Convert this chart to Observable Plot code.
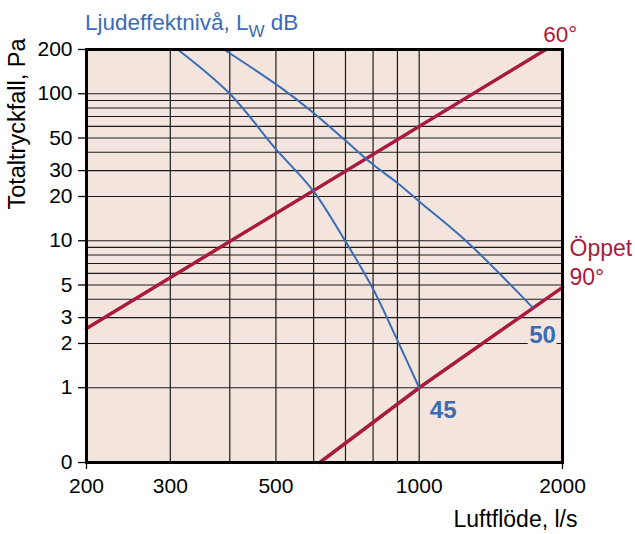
<!DOCTYPE html>
<html>
<head>
<meta charset="utf-8">
<script src="https://cdn.jsdelivr.net/npm/d3@7"></script>
<script src="https://cdn.jsdelivr.net/npm/@observablehq/plot@0.6"></script>
<style>
  body { margin: 0; background: #fff; }
  #wrap { position: relative; width: 635px; height: 534px; font-family: "Liberation Sans", Arial, sans-serif; }
  #title { position: absolute; left: 85px; top: 12px; color: #3b6cb4; font-size: 22.5px; line-height: 22.5px; white-space: nowrap; }
  #title .sub { font-size: 17px; position: relative; top: 7px; }
</style>
</head>
<body>
<div id="wrap">
  <div id="chart"></div>
  <div id="title">Ljudeffektnivå, L<span class="sub">W</span> dB</div>
</div>
<script>
// Axis ticks and labels
const xTicks = [200, 300, 500, 1000, 2000];
const xEdgeTicks = [200, 2000];
const yTicks = [0.31, 1, 2, 3, 5, 10, 20, 30, 50, 100, 200];
const yTickLabels = ["0", "1", "2", "3", "5", "10", "20", "30", "50", "100", "200"];
const xGrid = [300, 400, 500, 600, 700, 800, 900, 1000];
const yGrid = [1, 2, 3, 4, 5, 6, 7, 8, 9, 10, 20, 30, 40, 50, 60, 70, 80, 90, 100];

// Damper position lines (flow l/s, pressure drop Pa)
const flow60 = [200, 1845];
const dp60 = [2.53, 200];
const flow90 = [618, 1000, 2000];
const dp90 = [0.31, 1, 4.82];

// Sound power level curves
const flow45 = [311, 400, 500, 600, 700, 800, 900, 1000];
const dp45 = [200, 100, 42, 21.7, 9.9, 4.7, 2.1, 1];
const flow50 = [389, 512, 600, 700, 800, 900, 1000, 1253, 1730];
const dp50 = [200, 110, 74, 48, 33, 24.7, 18.5, 10, 3.52];

const labels = {
  title60: "60°", open: "Öppet", open90: "90°", lw45: "45", lw50: "50",
  yLabel: "Totaltryckfall, Pa", xLabel: "Luftflöde, l/s"
};

const BG = "#f3e5de";
const RED = "#a81a3e";
const BLUE = "#3b6cb4";
const GRID = "#1c1c1c";

const toPts = (xs, ys) => xs.map((x, i) => ({x, y: ys[i]}));
const line60 = toPts(flow60, dp60);
const line90 = toPts(flow90, dp90);
const curve45 = toPts(flow45, dp45);
const curve50 = toPts(flow50, dp50);
const yTickRows = yTicks.map((v, i) => ({v, label: yTickLabels[i]}));

const chart = Plot.plot({
  width: 635,
  height: 534,
  marginLeft: 86,
  marginRight: 73,
  marginTop: 49,
  marginBottom: 72,
  style: { fontFamily: "'Liberation Sans', Arial, sans-serif", fontSize: "21px", color: "black", background: "white", overflow: "visible" },
  x: { type: "log", domain: [200, 2000] },
  y: { type: "log", domain: [0.31, 200] },
  marks: [
    Plot.frame({ fill: BG }),
    Plot.ruleY(yGrid, { stroke: GRID, strokeWidth: 1.2 }),
    Plot.ruleX(xGrid, { stroke: GRID, strokeWidth: 1.2 }),
    Plot.text([labels.lw50], { x: flow50[flow50.length - 1], y: dp50[dp50.length - 1], dx: 10, dy: 28, fontSize: 24, fontWeight: "bold", fill: BLUE, stroke: BG, strokeWidth: 8, textAnchor: "middle", lineAnchor: "middle" }),
    Plot.text([labels.lw45], { x: flow45[flow45.length - 1], y: dp45[dp45.length - 1], dx: 24, dy: 23, fontSize: 24, fontWeight: "bold", fill: BLUE, textAnchor: "middle", lineAnchor: "middle" }),
    Plot.line(line60, { x: "x", y: "y", stroke: RED, strokeWidth: 3.5 }),
    Plot.line(line90, { x: "x", y: "y", stroke: RED, strokeWidth: 3.5 }),
    Plot.line(curve45, { x: "x", y: "y", stroke: BLUE, strokeWidth: 2, curve: "catmull-rom" }),
    Plot.line(curve50, { x: "x", y: "y", stroke: BLUE, strokeWidth: 2, curve: "catmull-rom" }),
    Plot.frame({ stroke: "black", strokeWidth: 3 }),
    Plot.axisY(yTickRows, { y: "v", text: "label", tickSize: 8, tickPadding: 6, label: null, fontSize: 21, strokeWidth: 1.3 }),
    Plot.axisX({ ticks: xTicks, tickSize: 0, tickPadding: 16, tickFormat: (d) => String(d), label: null, fontSize: 21 }),
    Plot.axisX({ ticks: xEdgeTicks, tickSize: 7, tickFormat: () => "", label: null, strokeWidth: 1.3 }),
    Plot.text([labels.title60], { frameAnchor: "top-right", dx: -2.3, dy: -14.5, fill: RED, fontSize: 22.5, textAnchor: "middle", lineAnchor: "middle" }),
    Plot.text([labels.open], { frameAnchor: "top-right", dx: 7, dy: 199.6, fill: RED, fontSize: 23, textAnchor: "start", lineAnchor: "middle" }),
    Plot.text([labels.open90], { frameAnchor: "top-right", dx: 7, dy: 228.6, fill: RED, fontSize: 23, textAnchor: "start", lineAnchor: "middle" }),
    Plot.text([labels.yLabel], { frameAnchor: "top-left", dx: -69, dy: 74.5, rotate: -90, fill: "black", fontSize: 23.5, textAnchor: "middle", lineAnchor: "middle" }),
    Plot.text([labels.xLabel], { frameAnchor: "bottom-right", dx: 15, dy: 57.3, fill: "black", fontSize: 23, textAnchor: "end", lineAnchor: "middle" })
  ]
});
document.getElementById("chart").appendChild(chart);
</script>
</body>
</html>
